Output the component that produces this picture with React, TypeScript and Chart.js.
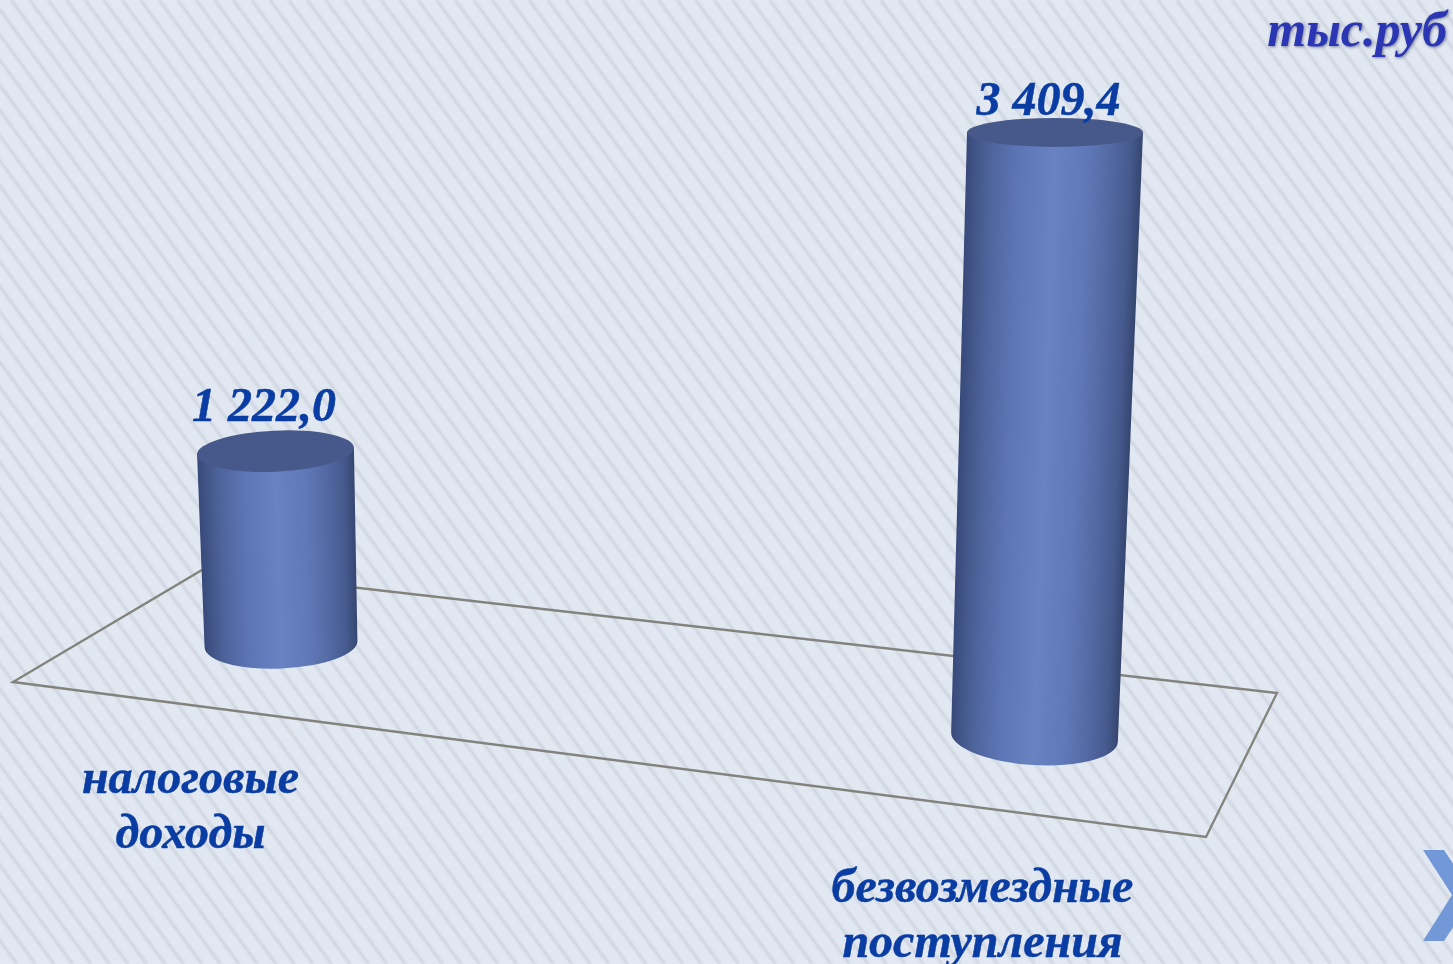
import React, { useEffect, useRef } from "react";
import { Chart, registerables } from "chart.js";

Chart.register(...registerables);

const categories = [["налоговые", "доходы"], ["безвозмездные", "поступления"]];
const values = [1222.0, 3409.4];
const unitLabel = "тыс.руб";

const W = 1453;
const H = 964;
const SERIF = '"Liberation Serif", serif';

// perspective description of each cylinder (floor position, foreshortening, lean)
const depth = [0.89, 1];
const baseShift = [-93, 0];
const baseWidth = [153, 167];
const topWidth = [157, 176];
const topShift = [-5.5, 20.5];
const baseRy = [24.5, 28];
const topRy = [20.5, 14.5];
const baseRot = [-2.5, 3.4];
const topRot = [-2.6, 0];
const labelOffset = [[-90.5, 149], [-52, 164.5]];
const valueOffset = [[-11.5, -30], [-6.5, -17]];
const shadeStops: [number, string][] = [
  [0, "#38497a"],
  [0.06, "#435689"],
  [0.14, "#4e649c"],
  [0.3, "#5d76b6"],
  [0.5, "#6882c2"],
  [0.68, "#6079b8"],
  [0.82, "#5369a3"],
  [0.93, "#465a8e"],
  [1, "#364670"],
];

function formatValue(v: number) {
  const [i, d] = v.toFixed(1).split(".");
  return `${i.replace(/\B(?=(\d{3})+$)/g, " ")},${d}`;
}

const scenery = {
  id: "scenery",
  beforeDraw(chart: any) {
    const ctx: CanvasRenderingContext2D = chart.ctx;
    ctx.save();
    ctx.fillStyle = "#e2e8f1";
    ctx.fillRect(0, 0, W, H);
    ctx.strokeStyle = "#cbd1dc";
    ctx.lineWidth = 2.4;
    ctx.filter = "blur(0.9px)";
    const slope = 1.36;
    const period = 18.5;
    for (let x = -H / slope - 20; x < W + 20; x += period) {
      ctx.beginPath();
      ctx.moveTo(x, 0);
      ctx.lineTo(x + H / slope, H);
      ctx.stroke();
    }
    ctx.filter = "none";
    ctx.strokeStyle = "#82837d";
    ctx.lineWidth = 2.3;
    ctx.lineJoin = "miter";
    ctx.beginPath();
    ctx.moveTo(13, 682);
    ctx.lineTo(1206, 837);
    ctx.lineTo(1277, 693);
    ctx.lineTo(202, 570);
    ctx.closePath();
    ctx.stroke();
    ctx.fillStyle = "#7298d8";
    ctx.beginPath();
    ctx.moveTo(1423, 850);
    ctx.lineTo(1444, 850);
    ctx.lineTo(1474, 895);
    ctx.lineTo(1444, 941);
    ctx.lineTo(1423, 941);
    ctx.lineTo(1452, 895);
    ctx.closePath();
    ctx.fill();
    ctx.restore();
  },
  afterDatasetsDraw(chart: any) {
    const ctx: CanvasRenderingContext2D = chart.ctx;
    const meta = chart.getDatasetMeta(0);
    meta.data.forEach((bar: any, i: number) => {
      const floorY = bar.base + baseShift[i];
      const topY = floorY - (bar.base - bar.y) * depth[i];
      const bx = bar.x;
      const cxTop = bx + topShift[i];
      const bw = baseWidth[i] / 2;
      const tw = topWidth[i] / 2;
      const br = (baseRot[i] * Math.PI) / 180;
      const tr = (topRot[i] * Math.PI) / 180;
      ctx.save();
      // silhouette of the side wall
      ctx.beginPath();
      ctx.moveTo(cxTop - tw * Math.cos(tr), topY - tw * Math.sin(tr));
      ctx.lineTo(cxTop + tw * Math.cos(tr), topY + tw * Math.sin(tr));
      ctx.lineTo(bx + bw * Math.cos(br), floorY + bw * Math.sin(br));
      ctx.ellipse(bx, floorY, bw, baseRy[i], br, 0, Math.PI);
      ctx.closePath();
      ctx.clip();
      // one horizontal gradient per pixel row, so the shading follows the lean
      const y0 = Math.floor(topY - tw * 0.1);
      const y1 = Math.ceil(floorY + baseRy[i] + 4);
      for (let y = y0; y < y1; y++) {
        const k = (y - topY) / (floorY - topY);
        const cx = cxTop + (bx - cxTop) * k;
        const w = tw + (bw - tw) * k;
        const g = ctx.createLinearGradient(cx - w, 0, cx + w, 0);
        shadeStops.forEach(([p, c]) => g.addColorStop(p, c));
        ctx.fillStyle = g;
        ctx.fillRect(Math.floor(cx - w - 6), y, Math.ceil(2 * w + 12), 1);
      }
      ctx.restore();
      // top cap
      ctx.save();
      ctx.fillStyle = "#47598a";
      ctx.beginPath();
      ctx.ellipse(cxTop, topY, tw, topRy[i], tr, 0, Math.PI * 2);
      ctx.fill();
      ctx.restore();
      // value label
      ctx.save();
      ctx.font = `italic bold 48px ${SERIF}`;
      ctx.fillStyle = "#0a3da3";
      ctx.strokeStyle = "#0a3da3";
      ctx.lineWidth = 0.5;
      ctx.textAlign = "center";
      ctx.textBaseline = "alphabetic";
      const vx = cxTop + valueOffset[i][0];
      const vy = topY + valueOffset[i][1];
      ctx.fillText(formatValue(values[i]), vx, vy);
      ctx.strokeText(formatValue(values[i]), vx, vy);
      // category label
      const lx = bx + labelOffset[i][0];
      const ly = floorY + labelOffset[i][1];
      categories[i].forEach((line, k) => {
        ctx.fillText(line, lx, ly + k * 55);
        ctx.strokeText(line, lx, ly + k * 55);
      });
      ctx.restore();
    });
    ctx.save();
    ctx.font = `italic bold 50px ${SERIF}`;
    ctx.textAlign = "right";
    ctx.shadowColor = "rgba(40,40,90,0.55)";
    ctx.shadowBlur = 3;
    ctx.shadowOffsetX = 1;
    ctx.shadowOffsetY = 1;
    ctx.fillStyle = "#2a36b4";
    ctx.fillText(unitLabel, 1447, 46);
    ctx.restore();
  },
};

export default function App() {
  const ref = useRef<HTMLCanvasElement | null>(null);
  useEffect(() => {
    document.body.style.margin = "0";
    document.body.style.overflow = "hidden";
    const chart = new Chart(ref.current!, {
      type: "bar",
      data: {
        labels: categories.map((c) => c.join(" ")),
        datasets: [{ data: values, backgroundColor: "rgba(0,0,0,0)", barThickness: 160 }],
      },
      plugins: [scenery],
      options: {
        responsive: false,
        animation: false,
        layout: { padding: { left: 281, right: 418.5, top: 116.4, bottom: 227 } },
        plugins: { legend: { display: false }, tooltip: { enabled: false } },
        scales: {
          x: { display: false, offset: false },
          y: { display: false, min: 0, max: 3500 },
        },
      },
    });
    return () => chart.destroy();
  }, []);
  return (
    <div style={{ width: W, height: H, overflow: "hidden" }}>
      <canvas ref={ref} width={W} height={H} style={{ display: "block" }} />
    </div>
  );
}
